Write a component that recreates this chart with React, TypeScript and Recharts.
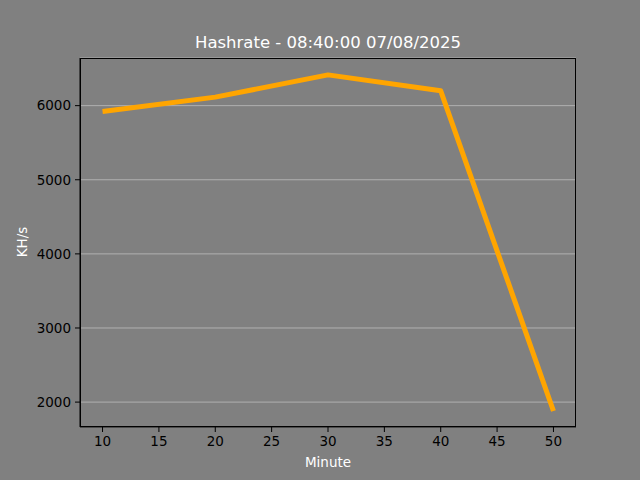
import React from 'react';
import { LineChart, Line, XAxis, YAxis, CartesianGrid } from 'recharts';

const minutes = [10, 20, 30, 40, 50];
const hashrate = [5920, 6115, 6415, 6200, 1880];
const xTicks = [10, 15, 20, 25, 30, 35, 40, 45, 50];
const yTicks = [2000, 3000, 4000, 5000, 6000];

const data = minutes.map((m, i) => ({ minute: m, rate: hashrate[i] }));

const font = '"DejaVu Sans", sans-serif';
const tickStyle = { fill: '#000', fontSize: 13.5, fontFamily: font };

export default function App() {
  return (
    <div style={{ position: 'absolute', left: 0, top: 0, width: 640, height: 480, background: '#808080' }}>
      <LineChart width={640} height={480} data={data} margin={{ top: 58, right: 64, bottom: 0, left: 0 }}>
        <CartesianGrid vertical={false} stroke="#bcbcbc" strokeWidth={0.8} />
        <XAxis
          dataKey="minute"
          type="number"
          domain={[8, 52]}
          ticks={xTicks}
          height={53}
          tickSize={5}
          tickMargin={4}
          stroke="#000"
          tick={tickStyle}
          interval={0}
        />
        <YAxis
          type="number"
          domain={[1664, 6643]}
          ticks={yTicks}
          width={80}
          tickSize={5}
          tickMargin={4}
          stroke="#000"
          tick={tickStyle}
          interval={0}
        />
        <Line
          type="linear"
          dataKey="rate"
          stroke="#FFA500"
          strokeWidth={5}
          strokeLinejoin="round"
          dot={false}
          isAnimationActive={false}
        />
      </LineChart>
      <div style={{ position: 'absolute', left: 80, top: 58, width: 496, height: 369, boxSizing: 'border-box', border: '1px solid #000', pointerEvents: 'none' }} />
      <div style={{ position: 'absolute', left: 80, width: 496, top: 33, textAlign: 'center', color: '#fff', fontFamily: font, fontSize: 16.5, lineHeight: '20px' }}>
        Hashrate - 08:40:00 07/08/2025
      </div>
      <div style={{ position: 'absolute', left: 80, width: 496, top: 453, textAlign: 'center', color: '#fff', fontFamily: font, fontSize: 13.5, lineHeight: '18px' }}>
        Minute
      </div>
      <div style={{ position: 'absolute', left: 22, top: 242, transform: 'translate(-50%, -50%) rotate(-90deg)', color: '#fff', fontFamily: font, fontSize: 13.5, lineHeight: '18px', whiteSpace: 'nowrap' }}>
        KH/s
      </div>
    </div>
  );
}
